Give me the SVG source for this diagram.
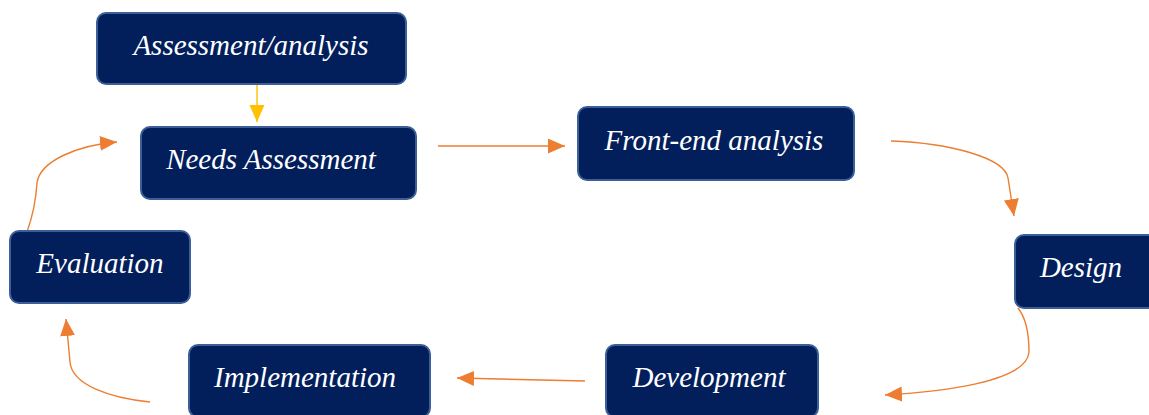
<svg xmlns="http://www.w3.org/2000/svg" width="1149" height="415" viewBox="0 0 1149 415">
<style>
.box{fill:#021f5c;stroke:#3d5f98;stroke-width:2}
.lbl{font-family:'Liberation Serif','Times New Roman','DejaVu Serif',serif;font-style:italic;font-size:29px;fill:#ffffff;text-anchor:middle}
.conn{fill:none;stroke:#ed7d31;stroke-width:1.4}
</style>
<defs>
<marker id="ah" markerUnits="userSpaceOnUse" markerWidth="20" markerHeight="18" refX="17" refY="7.5" orient="auto">
<path d="M0,0 L17,7.5 L0,15 z" fill="#ed7d31"/>
</marker>
<marker id="ahy" markerUnits="userSpaceOnUse" markerWidth="20" markerHeight="18" refX="17" refY="7.5" orient="auto">
<path d="M0,0 L17,7.5 L0,15 z" fill="#ffc000"/>
</marker>
</defs>
<rect width="1149" height="415" fill="#ffffff"/>
<g id="connectors">
<path d="M257,85 L257,122" fill="none" stroke="#ffc000" stroke-width="1.4" marker-end="url(#ahy)"/>
<path class="conn" d="M438,146 L565,146" marker-end="url(#ah)"/>
<path class="conn" d="M891,141 C950,143 1005,158 1008,178 L1014,216" marker-end="url(#ah)"/>
<path class="conn" d="M1018,308 C1026,318 1029,335 1029,352 C1027,382 940,392 885,395" marker-end="url(#ah)"/>
<path class="conn" d="M585,381 L457,378" marker-end="url(#ah)"/>
<path class="conn" d="M150,402 C110,398 72,385 70,362 L66,319" marker-end="url(#ah)"/>
<path class="conn" d="M27,232 C33,215 36,200 37,183 C40,160 80,145 117,142" marker-end="url(#ah)"/>
</g>
<g id="assessment">
<rect class="box" x="97" y="13" width="309" height="71" rx="9"/>
<text class="lbl" x="251" y="55">Assessment/analysis</text>
</g>
<g id="needs">
<rect class="box" x="141" y="127" width="275" height="72" rx="9"/>
<text class="lbl" x="271" y="169">Needs Assessment</text>
</g>
<g id="frontend">
<rect class="box" x="578" y="107" width="276" height="73" rx="9"/>
<text class="lbl" x="714" y="150">Front-end analysis</text>
</g>
<g id="design">
<rect class="box" x="1015" y="235" width="150" height="73" rx="9"/>
<text class="lbl" x="1081" y="277">Design</text>
</g>
<g id="development">
<rect class="box" x="606" y="345" width="212" height="72" rx="9"/>
<text class="lbl" x="709" y="387">Development</text>
</g>
<g id="implementation">
<rect class="box" x="189" y="345" width="241" height="72" rx="9"/>
<text class="lbl" x="305" y="387">Implementation</text>
</g>
<g id="evaluation">
<rect class="box" x="10" y="231" width="180" height="72" rx="9"/>
<text class="lbl" x="100" y="273">Evaluation</text>
</g>
</svg>
